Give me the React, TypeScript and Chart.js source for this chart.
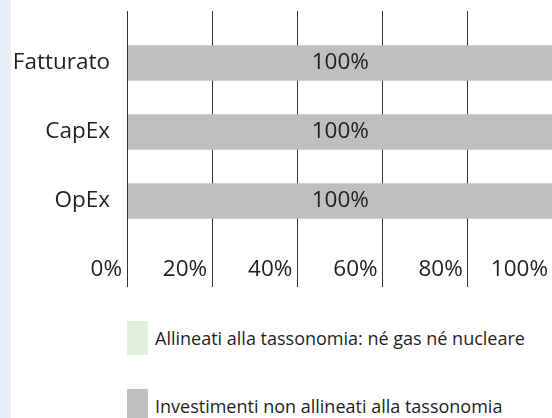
import React, { useEffect, useRef } from "react";
import { Chart, registerables } from "chart.js";

Chart.register(...registerables);

const categories = ["Fatturato", "CapEx", "OpEx"];
const alignedValues = [0, 0, 0];
const notAlignedValues = [100, 100, 100];
const xTickValues = [0, 20, 40, 60, 80, 100];
const seriesNames = [
  "Allineati alla tassonomia: né gas né nucleare",
  "Investimenti non allineati alla tassonomia",
];
const seriesColors = ["#e2efda", "#bfbfbf"];

const FONT = "'Open Sans', 'Noto Sans', sans-serif";
const TEXT = "#1f1f1f";
const CANVAS_W = 600;
const CANVAS_H = 300;

const overlayPlugin = {
  id: "overlay",
  afterDatasetsDraw(chart: any) {
    const ctx = chart.ctx;
    const xs = chart.scales.x;
    const ys = chart.scales.y;
    const area = chart.chartArea;
    ctx.save();
    // zero line drawn above the bars
    const x0 = Math.round(xs.getPixelForValue(0)) + 0.5;
    ctx.strokeStyle = "#333333";
    ctx.lineWidth = 1;
    ctx.beginPath();
    ctx.moveTo(x0, area.top);
    ctx.lineTo(x0, area.bottom);
    ctx.stroke();

    ctx.fillStyle = TEXT;
    ctx.font = `22.5px ${FONT}`;
    ctx.textBaseline = "middle";
    // data labels
    ctx.textAlign = "center";
    const meta = chart.getDatasetMeta(1);
    meta.data.forEach((bar: any, i: number) => {
      const v = notAlignedValues[i];
      if (v > 0) ctx.fillText(v + "%", (bar.x + bar.base) / 2, bar.y);
    });
    // x tick labels, in the row under the bars
    const rowY = ys.getPixelForValue(categories.length);
    ctx.textAlign = "right";
    xTickValues.forEach((v) => {
      ctx.fillText(v + "%", xs.getPixelForValue(v) - 5, rowY);
    });
    ctx.restore();
  },
};

export default function App() {
  const ref = useRef<HTMLCanvasElement | null>(null);

  useEffect(() => {
    if (!ref.current) return;
    const chart = new Chart(ref.current, {
      type: "bar",
      data: {
        datasets: [
          {
            label: seriesNames[0],
            data: categories.map((_, i) => ({ x: alignedValues[i], y: i })),
            backgroundColor: seriesColors[0],
            barThickness: 35,
          },
          {
            label: seriesNames[1],
            data: categories.map((_, i) => ({ x: notAlignedValues[i], y: i })),
            backgroundColor: seriesColors[1],
            barThickness: 35,
          },
        ],
      },
      options: {
        indexAxis: "y",
        responsive: false,
        animation: false,
        devicePixelRatio: 1,
        layout: { padding: { top: 11, right: CANVAS_W - 553, bottom: CANVAS_H - 287, left: 0 } },
        plugins: { legend: { display: false }, tooltip: { enabled: false } },
        scales: {
          x: {
            type: "linear",
            min: 0,
            max: 100,
            stacked: true,
            afterBuildTicks: (s: any) => {
              s.ticks = xTickValues.map((v) => ({ value: v }));
            },
            ticks: { display: false },
            grid: { color: "#333333", lineWidth: 1, drawTicks: false },
            border: { display: false },
          },
          y: {
            type: "linear",
            reverse: true,
            offset: false,
            min: -0.754,
            max: 3.246,
            stacked: true,
            afterBuildTicks: (s: any) => {
              s.ticks = categories.map((_, i) => ({ value: i }));
            },
            afterFit: (s: any) => {
              s.width = 127;
              s.paddingTop = 0;
              s.paddingBottom = 0;
            },
            ticks: {
              callback: (v: any) => categories[v] ?? "",
              font: { size: 22.5, family: FONT },
              color: TEXT,
              padding: 17,
            },
            grid: { display: false, offset: false, drawTicks: false },
            border: { display: false },
          },
        },
      } as any,
      plugins: [overlayPlugin],
    });
    return () => chart.destroy();
  }, []);

  return (
    <div
      style={{
        position: "fixed",
        left: 0,
        top: 0,
        width: 552,
        height: 418,
        overflow: "hidden",
        background: "#ffffff",
      }}
    >
      <canvas
        ref={ref}
        width={CANVAS_W}
        height={CANVAS_H}
        style={{ position: "absolute", left: 0, top: 0, width: CANVAS_W, height: CANVAS_H }}
      />
      <div
        style={{
          position: "absolute",
          left: 0,
          top: 0,
          width: 11,
          height: 418,
          background: "#e9edf7",
        }}
      />
      {seriesNames.map((name, i) => (
        <div
          key={name}
          style={{
            position: "absolute",
            left: 127,
            top: 321 + i * 68,
            height: 34,
            display: "flex",
            alignItems: "center",
            fontFamily: FONT,
            fontSize: 18,
            color: TEXT,
            whiteSpace: "nowrap",
          }}
        >
          <span
            style={{
              display: "inline-block",
              width: 21,
              height: 34,
              background: seriesColors[i],
              marginRight: 7,
            }}
          />
          <span>{name}</span>
        </div>
      ))}
    </div>
  );
}
